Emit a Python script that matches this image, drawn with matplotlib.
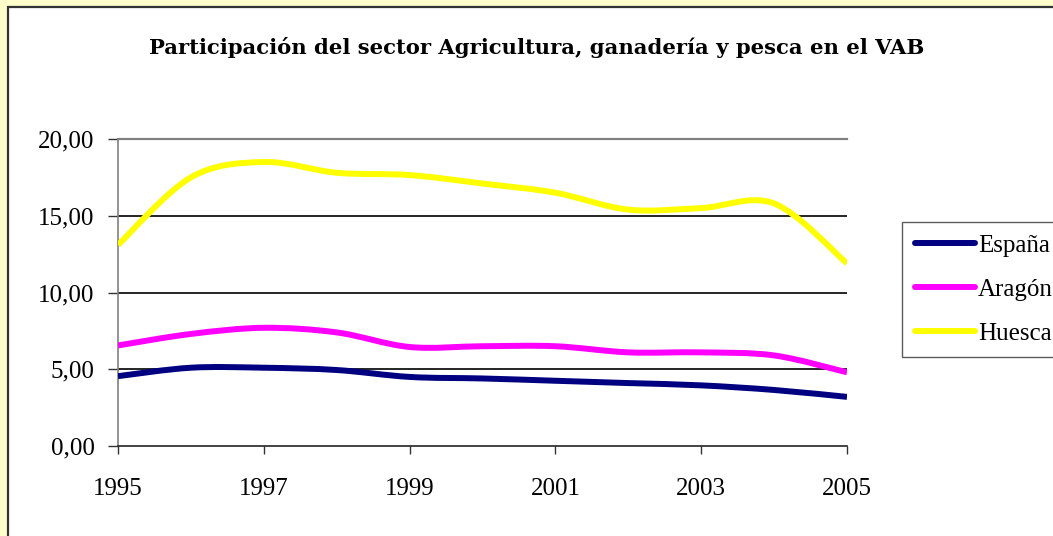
import matplotlib
matplotlib.use('Agg')
import numpy as np
import matplotlib.pyplot as plt
from matplotlib.path import Path
from matplotlib.patches import PathPatch, Rectangle
from matplotlib.lines import Line2D

years = [1995, 1996, 1997, 1998, 1999, 2000, 2001, 2002, 2003, 2004, 2005]
espana = [4.55, 5.1, 5.1, 4.95, 4.5, 4.4, 4.25, 4.1, 3.95, 3.65, 3.2]
aragon = [6.55, 7.3, 7.7, 7.4, 6.45, 6.5, 6.5, 6.1, 6.1, 5.9, 4.8]
huesca = [13.1, 17.5, 18.5, 17.8, 17.65, 17.1, 16.5, 15.4, 15.5, 15.8, 11.9]

series_names = ['España', 'Aragón', 'Huesca']
series_colors = ['#000080', '#FF00FF', '#FFFF00']

yticks = [0, 5, 10, 15, 20]
ytick_labels = ['0,00', '5,00', '10,00', '15,00', '20,00']
xticks = [1995, 1997, 1999, 2001, 2003, 2005]

title = 'Participación del sector Agricultura, ganadería y pesca en el VAB'

SERIF = ['Liberation Serif', 'DejaVu Serif']
LW = 4.3


def smooth_path(x, y):
    """Excel-like smoothed line: cubic Bezier through every point."""
    pts = np.column_stack([x, y]).astype(float)
    n = len(pts)
    verts = [pts[0]]
    codes = [Path.MOVETO]
    for i in range(n - 1):
        p_prev = pts[i - 1] if i > 0 else pts[i]
        p_next2 = pts[i + 2] if i + 2 < n else pts[i + 1]
        c1 = pts[i] + (pts[i + 1] - p_prev) / 6
        c2 = pts[i + 1] - (p_next2 - pts[i]) / 6
        verts += [c1, c2, pts[i + 1]]
        codes += [Path.CURVE4] * 3
    return Path(verts, codes)


fig = plt.figure(figsize=(10.53, 5.36), dpi=100, facecolor='#FFFFCC')

# white chart area with dark border, cut off on the right and bottom
fig.patches.append(Rectangle((8 / 1053, -0.05), 1.1, 1 - 7 / 536 + 0.05,
                             transform=fig.transFigure, facecolor='white',
                             edgecolor='#333333', linewidth=1.6, zorder=-5))

ax = fig.add_axes([118 / 1053, 1 - 446 / 536, 729 / 1053, 307 / 536])
ax.set_facecolor('white')
ax.set_zorder(1)

for vals, color in zip([espana, aragon, huesca], series_colors):
    ax.add_patch(PathPatch(smooth_path(years, vals), fill=False,
                           edgecolor=color, linewidth=LW,
                           capstyle='butt', joinstyle='round', zorder=3))

ax.set_xlim(1995, 2005)
ax.set_ylim(0, 20)

ax.set_yticks(yticks)
ax.set_yticklabels(ytick_labels, family=SERIF, fontsize=18)
ax.set_xticks(xticks)
ax.set_xticklabels([str(y) for y in xticks], family=SERIF, fontsize=18)
ax.tick_params(axis='y', direction='out', length=7, width=1, color='#333333', pad=10)
ax.tick_params(axis='x', direction='out', length=6, width=1, color='#333333', pad=17)

for yv in yticks[1:-1]:
    ax.axhline(yv, color='black', linewidth=1.2, zorder=1)

ax.spines['right'].set_visible(False)
ax.spines['top'].set_color('#808080')
ax.spines['top'].set_linewidth(1.6)
ax.spines['left'].set_color('#808080')
ax.spines['left'].set_linewidth(1.2)
ax.spines['bottom'].set_color('#222222')
ax.spines['bottom'].set_linewidth(1.2)

fig.text(537 / 1053, 1 - 47 / 536, title, ha='center', va='center',
         family=['DejaVu Serif'], fontsize=15.2, fontweight='bold')

handles = [Line2D([], [], color=c, linewidth=LW, solid_capstyle='round')
           for c in series_colors]
leg = fig.legend(handles, series_names, loc='upper left',
                 bbox_to_anchor=(902 / 1053, 1 - 222 / 536),
                 prop={'family': SERIF, 'size': 18}, frameon=True,
                 fancybox=False, handlelength=2.4, handletextpad=0.15,
                 labelspacing=0.85, borderpad=0.5, borderaxespad=0)
leg.get_frame().set_edgecolor('#333333')
leg.get_frame().set_linewidth(1.0)
leg.set_zorder(5)

fig.savefig('out.png', dpi=100, facecolor=fig.get_facecolor())
